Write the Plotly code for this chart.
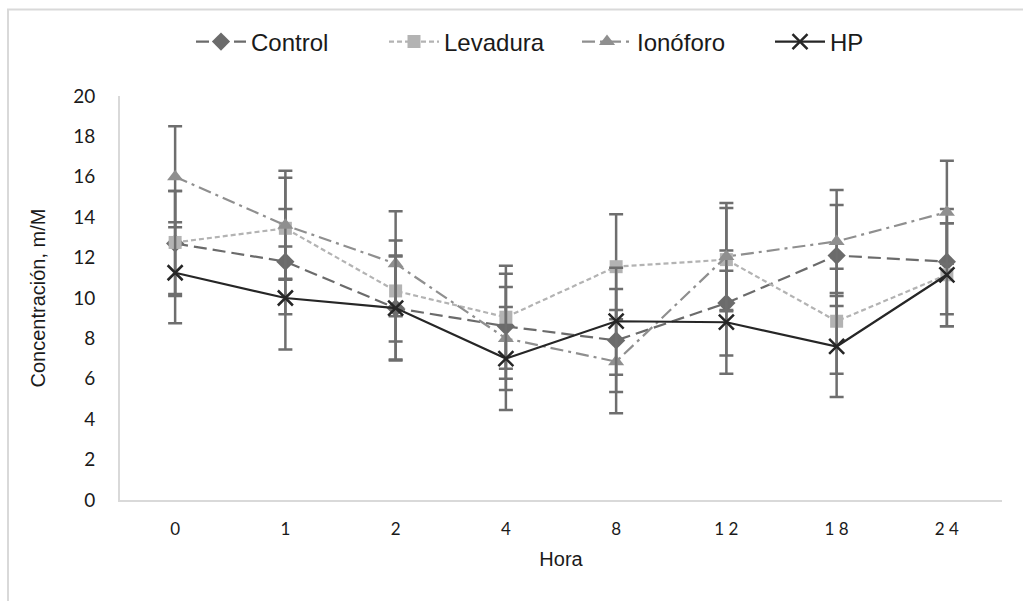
import plotly.graph_objects as go

horas = ["0", "1", "2", "4", "8", "12", "18", "24"]
tick_text = ["0", "1", "2", "4", "8", "1 2", "1 8", "2 4"]

control = [12.7, 11.8, 9.5, 8.6, 7.9, 9.75, 12.1, 11.8]
control_err = [2.6, 2.6, 2.6, 2.6, 2.55, 2.6, 2.5, 2.6]

levadura = [12.75, 13.45, 10.35, 9.05, 11.55, 11.9, 8.85, 11.15]
levadura_err = [2.55, 2.5, 2.5, 2.55, 2.6, 2.55, 2.6, 2.55]

ionoforo = [16.0, 13.6, 11.7, 8.0, 6.85, 12.05, 12.8, 14.25]
ionoforo_err = [2.5, 2.7, 2.6, 2.55, 2.55, 2.65, 2.55, 2.55]

hp = [11.25, 10.0, 9.5, 7.0, 8.85, 8.8, 7.6, 11.15]
hp_err = [2.5, 2.55, 2.55, 2.55, 2.65, 2.55, 2.5, 2.55]

ERR_COLOR = "#6e6e6e"

def err(vals):
    return dict(type="data", array=vals, symmetric=True, color=ERR_COLOR,
                thickness=2.5, width=7)

fig = go.Figure()
fig.add_trace(go.Scatter(
    x=horas, y=control, name="Control", mode="lines+markers",
    line=dict(color="#6b6b6b", width=2.2, dash="13px,6px"),
    marker=dict(symbol="diamond", size=14, color="#6b6b6b"),
    error_y=err(control_err)))
fig.add_trace(go.Scatter(
    x=horas, y=levadura, name="Levadura", mode="lines+markers",
    line=dict(color="#b3b3b3", width=2.2, dash="5px,3px"),
    marker=dict(symbol="square", size=13, color="#b3b3b3"),
    error_y=err(levadura_err)))
fig.add_trace(go.Scatter(
    x=horas, y=ionoforo, name="Ionóforo", mode="lines+markers",
    line=dict(color="#8f8f8f", width=2.2, dash="13px,5px,3px,5px"),
    marker=dict(symbol="triangle-up", size=14, color="#8f8f8f"),
    error_y=err(ionoforo_err)))
fig.add_trace(go.Scatter(
    x=horas, y=hp, name="HP", mode="lines+markers",
    line=dict(color="#262626", width=2.2),
    marker=dict(symbol="x-thin", size=15, color="#262626",
                line=dict(color="#262626", width=2.5)),
    error_y=err(hp_err)))

L, R, T, B = 120, 21, 96, 101
W, H = 1023, 601
pw, ph = W - L - R, H - T - B
px = lambda p: (p - L) / pw
py = lambda p: (H - B - p) / ph

fig.update_layout(
    width=W, height=H,
    margin=dict(l=L, r=R, t=T, b=B, autoexpand=False),
    paper_bgcolor="white", plot_bgcolor="white",
    font=dict(family="Liberation Sans, Arial", color="#262626"),
    showlegend=True,
    legend=dict(orientation="h", x=px(191), xanchor="left", y=py(42), yanchor="middle",
                font=dict(family="Liberation Sans, Arial", size=24, color="#1a1a1a"),
                itemwidth=50, entrywidth=128, entrywidthmode="pixels",
                traceorder="normal", bgcolor="rgba(0,0,0,0)"),
    xaxis=dict(
        type="category", categoryorder="array", categoryarray=horas,
        tickmode="array", tickvals=horas, ticktext=tick_text,
        showline=True, linecolor="#d9d9d9", linewidth=2, showgrid=False,
        zeroline=False, ticks="", ticklabelstandoff=13,
        tickfont=dict(family="Lato, Open Sans", size=17, color="#1a1a1a"),
        title=dict(text="Hora", standoff=14,
                   font=dict(family="Liberation Sans, Arial", size=20, color="#1a1a1a")),
        range=[-0.5, 7.5]),
    yaxis=dict(
        range=[0, 20], dtick=2, tick0=0,
        showline=True, linecolor="#d9d9d9", linewidth=2, showgrid=False,
        zeroline=False, ticks="", ticklabelstandoff=19,
        tickfont=dict(family="Lato, Open Sans", size=19, color="#1a1a1a"),
        title=dict(text="Concentración, m/M", standoff=22,
                   font=dict(family="Liberation Sans, Arial", size=20, color="#1a1a1a"))),
    shapes=[dict(type="rect", xref="paper", yref="paper",
                 x0=px(8), x1=px(1040), y0=py(620), y1=py(9.5),
                 line=dict(color="#d9d9d9", width=2), fillcolor="rgba(0,0,0,0)",
                 layer="below")],
)

fig.write_html("out.html", config={"displayModeBar": False},
               post_script="document.body.style.margin='0';")
